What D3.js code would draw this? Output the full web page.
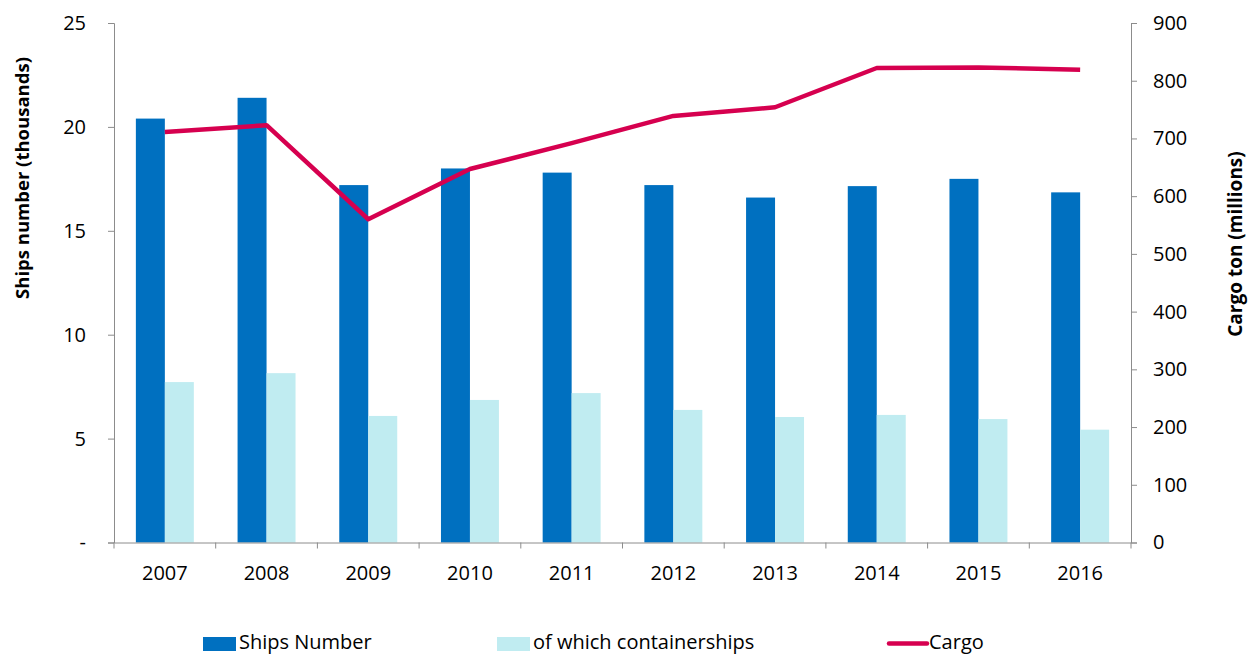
<!DOCTYPE html>
<html>
<head>
<meta charset="utf-8">
<script src="https://cdn.jsdelivr.net/npm/d3@7"></script>
<style>
  body { margin: 0; background: #fff; }
  svg text { font-family: "Open Sans", "Noto Sans", sans-serif; fill: #000; }
</style>
</head>
<body>
<div id="content"></div>
<script>
const years = ['2007', '2008', '2009', '2010', '2011', '2012', '2013', '2014', '2015', '2016'];
const shipsNumber = [20.4, 21.4, 17.2, 18.0, 17.8, 17.2, 16.6, 17.15, 17.5, 16.85];
const containerships = [7.72, 8.15, 6.09, 6.86, 7.19, 6.38, 6.04, 6.14, 5.94, 5.43];
const cargo = [711, 723, 560, 647, 692, 739, 754, 822, 823, 819];
const leftTicks = [0, 5, 10, 15, 20, 25];
const rightTicks = [0, 100, 200, 300, 400, 500, 600, 700, 800, 900];

const width = 1252, height = 655;
const margin = { top: 23, right: 121, bottom: 112.5, left: 114 };
const axisColor = '#8c8c8c';
const colors = { ships: '#0070C0', cont: '#C0ECF1', cargo: '#D6004F' };

const svg = d3.select('#content').append('svg')
  .attr('width', width).attr('height', height);

const x = d3.scaleBand().domain(years)
  .range([margin.left, width - margin.right]);
const yL = d3.scaleLinear().domain([0, 25]).range([height - margin.bottom, margin.top]);
const yR = d3.scaleLinear().domain([0, 900]).range([height - margin.bottom, margin.top]);

const barW = x.bandwidth() * 0.285;
const pad = (x.bandwidth() - 2 * barW) / 2;

// bars
svg.append('g').selectAll('rect').data(years).join('rect')
  .attr('x', d => x(d) + pad)
  .attr('y', (d, i) => yL(shipsNumber[i]))
  .attr('width', barW)
  .attr('height', (d, i) => yL(0) - yL(shipsNumber[i]))
  .attr('fill', colors.ships);

svg.append('g').selectAll('rect').data(years).join('rect')
  .attr('x', d => x(d) + pad + barW)
  .attr('y', (d, i) => yL(containerships[i]))
  .attr('width', barW)
  .attr('height', (d, i) => yL(0) - yL(containerships[i]))
  .attr('fill', colors.cont);

// axes
const left = svg.append('g').attr('transform', `translate(${margin.left},0)`)
  .call(d3.axisLeft(yL).tickValues(leftTicks).tickSizeOuter(0).tickSize(6).tickPadding(22)
    .tickFormat(d => d === 0 ? '-' : d));
const right = svg.append('g').attr('transform', `translate(${width - margin.right},0)`)
  .call(d3.axisRight(yR).tickValues(rightTicks).tickSizeOuter(0).tickSize(6).tickPadding(16));
const bottom = svg.append('g').attr('transform', `translate(0,${yL(0)})`)
  .call(d3.axisBottom(x).tickSize(0).tickPadding(23));

// category boundary ticks
svg.append('g').selectAll('line').data(d3.range(years.length + 1)).join('line')
  .attr('x1', i => margin.left + i * x.step()).attr('x2', i => margin.left + i * x.step())
  .attr('y1', yL(0)).attr('y2', yL(0) + 6)
  .attr('stroke', axisColor);

[left, right, bottom].forEach(g => {
  g.selectAll('path, line').attr('stroke', axisColor);
  g.selectAll('text').style('font-size', '20px').attr('fill', '#000')
    .style('font-family', '"Open Sans", sans-serif');
});

// cargo line
svg.append('path')
  .datum(cargo)
  .attr('fill', 'none')
  .attr('stroke', colors.cargo)
  .attr('stroke-width', 4.5)
  .attr('stroke-linejoin', 'round')
  .attr('d', d3.line().x((d, i) => x(years[i]) + x.bandwidth() / 2).y(d => yR(d)));

// axis titles
svg.append('text')
  .attr('transform', 'translate(29,178) rotate(-90)')
  .attr('text-anchor', 'middle')
  .style('font-size', '18.5px').style('font-weight', 'bold')
  .text('Ships number (thousands)');
svg.append('text')
  .attr('transform', 'translate(1242,244) rotate(-90)')
  .attr('text-anchor', 'middle')
  .style('font-size', '19px').style('font-weight', 'bold')
  .text('Cargo ton (millions)');

// legend
const legendItems = [
  { label: 'Ships Number', type: 'rect', color: colors.ships, x: 203 },
  { label: 'of which containerships', type: 'rect', color: colors.cont, x: 497 },
  { label: 'Cargo', type: 'line', color: colors.cargo, x: 889 }
];
const lg = svg.append('g');
legendItems.forEach(it => {
  if (it.type === 'rect') {
    lg.append('rect').attr('x', it.x).attr('y', 637).attr('width', 33).attr('height', 14).attr('fill', it.color);
  } else {
    lg.append('line').attr('x1', it.x).attr('x2', it.x + 38).attr('y1', 643.5).attr('y2', 643.5)
      .attr('stroke', it.color).attr('stroke-width', 4.5).attr('stroke-linecap', 'round');
  }
  lg.append('text').attr('x', it.type === 'rect' ? it.x + 36 : it.x + 40).attr('y', 649)
    .style('font-size', '20px')
    .text(it.label);
});
</script>
</body>
</html>
